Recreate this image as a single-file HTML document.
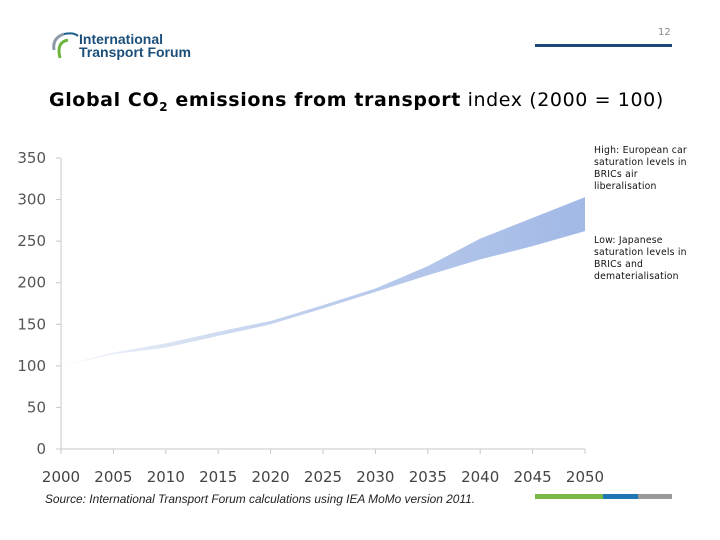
<!DOCTYPE html>
<html><head><meta charset="utf-8"><style>
body{margin:0;width:720px;height:540px;background:#fff;overflow:hidden;position:relative;font-family:"DejaVu Sans","Liberation Sans",sans-serif}
.abs{position:absolute}
.note{position:absolute;left:594px;font-size:9.3px;line-height:12px;color:#111;width:100px;letter-spacing:0.2px}
</style></head><body>
<svg class="abs" style="left:46px;top:28px" width="150" height="34">
<path d="M18 6 Q6 10 8 22" stroke="#8a9aa8" stroke-width="3" fill="none"/>
<path d="M22 12 Q10 14 14 30" stroke="#6db33f" stroke-width="3" fill="none"/>
<path d="M18 6 Q28 4 32 8" stroke="#1b5e8c" stroke-width="2" fill="none"/>
<text x="33" y="16" font-family="Liberation Sans Narrow, Liberation Sans, sans-serif" font-weight="bold" font-size="14" fill="#1b4f7a">International</text>
<text x="33" y="29" font-family="Liberation Sans Narrow, Liberation Sans, sans-serif" font-weight="bold" font-size="14" fill="#1b4f7a">Transport Forum</text>
</svg>
<div class="abs" style="left:658px;top:27px;font-size:10px;color:#888">12</div>
<div class="abs" style="left:535px;top:44px;width:137px;height:3px;background:#1c4a78"></div>
<div class="abs" style="left:49px;top:89px;font-size:19px;letter-spacing:0.6px;color:#000;white-space:nowrap"><b>Global CO<sub style="font-size:12px">2</sub> emissions from transport</b> index (2000 = 100)</div>
<div class="note" style="top:145px">High: European car saturation levels in BRICs air liberalisation</div>
<div class="note" style="top:235px">Low: Japanese saturation levels in BRICs and dematerialisation</div>
<svg id="chart" class="abs" style="left:0;top:0" width="720" height="540"></svg>
<div class="abs" style="left:45px;top:492px;font-family:'Liberation Sans',sans-serif;font-style:italic;font-size:11.9px;color:#222;white-space:nowrap">Source: International Transport Forum calculations using IEA MoMo version 2011.</div>
<div class="abs" style="left:535px;top:494px;width:68px;height:5px;background:#7ab648"></div>
<div class="abs" style="left:603px;top:494px;width:35px;height:5px;background:#1f78b4"></div>
<div class="abs" style="left:638px;top:494px;width:34px;height:5px;background:#9a9a9a"></div>
<script>
const years=[2000,2005,2010,2015,2020,2025,2030,2035,2040,2045,2050];
const highValues=[100,116,127,141,154,173,193,220,253,278,303];
const lowValues=[100,114,122,136,150,169,189,209,228,244,262];
const yTicks=[0,50,100,150,200,250,300,350];
const xTicks=[2000,2005,2010,2015,2020,2025,2030,2035,2040,2045,2050];
const NS="http://www.w3.org/2000/svg";
const svg=document.getElementById('chart');
const x=v=>61+(v-2000)/50*524;
const y=v=>449-v/350*291;
function mk(t,a){const e=document.createElementNS(NS,t);for(const k in a)e.setAttribute(k,a[k]);svg.appendChild(e);return e;}
const defs=mk('defs',{});
const g=document.createElementNS(NS,'linearGradient');g.setAttribute('id','bg');g.setAttribute('x1','0');g.setAttribute('x2','1');
g.innerHTML='<stop offset="0" stop-color="#f4f6fb"/><stop offset="0.4" stop-color="#c3d2ee"/><stop offset="1" stop-color="#a2b9e6"/>';
defs.appendChild(g);
let d='M'+years.map((yr,i)=>x(yr)+','+y(highValues[i])).join('L');
for(let i=years.length-1;i>=0;i--)d+='L'+x(years[i])+','+y(lowValues[i]);
const band=mk('path',{d:d+'Z',fill:'url(#bg)'});


const ya=mk('line',{x1:x(2000),x2:x(2000),y1:y(350),y2:y(0),stroke:'#c8c8c8'});


const xa=mk('line',{x1:x(2000),x2:x(2050),y1:y(0),y2:y(0),stroke:'#c8c8c8'});


yTicks.forEach(v=>{
mk('line',{x1:x(2000)-5,x2:x(2000),y1:y(v),y2:y(v),stroke:'#c8c8c8'});
const t=mk('text',{x:46,y:y(v)+5,'text-anchor':'end','font-size':15,fill:'#555','font-family':'DejaVu Sans, sans-serif'});
t.textContent=v;


});
xTicks.forEach(v=>{
mk('line',{x1:x(v),x2:x(v),y1:y(0),y2:y(0)+5,stroke:'#c8c8c8'});
const t=mk('text',{x:x(v),y:482,'text-anchor':'middle','font-size':15,fill:'#444','font-family':'DejaVu Sans, sans-serif'});
t.textContent=v;


});
</script>
</body></html>
